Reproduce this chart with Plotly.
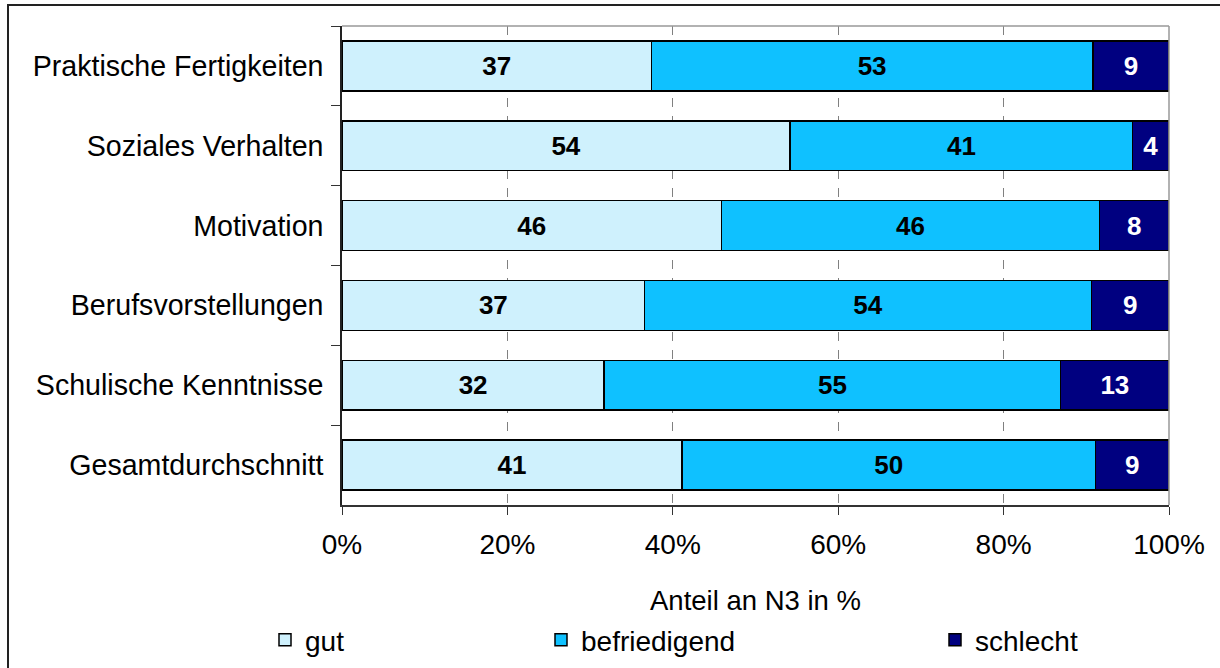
import plotly.graph_objects as go

categories = ["Praktische Fertigkeiten", "Soziales Verhalten", "Motivation",
              "Berufsvorstellungen", "Schulische Kenntnisse", "Gesamtdurchschnitt"]
gut = [37.4, 54.2, 45.9, 36.6, 31.7, 41.1]
befriedigend = [53.4, 41.4, 45.7, 54.0, 55.2, 50.0]
schlecht = [9.2, 4.4, 8.4, 9.4, 13.1, 8.9]
series_names = ["gut", "befriedigend", "schlecht"]
x_ticks = [0, 20, 40, 60, 80, 100]
x_tick_labels = ["0%", "20%", "40%", "60%", "80%", "100%"]

colors = ["#CFF1FD", "#0FC1FF", "#000080"]
text_colors = ["black", "black", "white"]
legend_ids = ["legend", "legend2", "legend3"]

FONT = "Liberation Sans, Arial, sans-serif"

fig = go.Figure()
for name, vals, col, tcol, lid in zip(series_names, [gut, befriedigend, schlecht],
                                      colors, text_colors, legend_ids):
    fig.add_trace(go.Bar(
        y=categories, x=vals, name=name, orientation="h",
        marker=dict(color=col, line=dict(color="black", width=1.5)),
        texttemplate="<b>%{x:.0f}</b>", textposition="inside",
        insidetextanchor="middle", textangle=0,
        textfont=dict(family=FONT, size=26, color=tcol),
        legend=lid,
    ))

W, H = 1220, 668
L, R, T, B = 342, 51, 26, 163
pw, ph = W - L - R, H - T - B

def px_x(p):
    return (p - L) / pw

def px_y(p):
    return (H - B - p) / ph

legend_common = dict(orientation="h", yanchor="middle", xanchor="left",
                     font=dict(family=FONT, size=28, color="black"),
                     bgcolor="rgba(0,0,0,0)", itemclick=False)

fig.update_layout(
    width=W, height=H,
    margin=dict(l=L, r=R, t=T, b=B, pad=0, autoexpand=False),
    paper_bgcolor="white", plot_bgcolor="white",
    barmode="stack", bargap=0.375,
    font=dict(family=FONT, size=27, color="black"),
    xaxis=dict(range=[0, 100], tickvals=x_ticks, ticktext=x_tick_labels,
               showgrid=True, gridcolor="#808080", griddash="dash", gridwidth=1,
               showline=True, linecolor="#333333", linewidth=1.5,
               ticks="outside", ticklen=8, tickcolor="#333333",
               tickfont=dict(family=FONT, size=28, color="black"),
               ticklabelstandoff=6, automargin=False,
               zeroline=False, fixedrange=True),
    yaxis=dict(autorange="reversed", tickson="boundaries",
               ticks="outside", ticklen=9, tickcolor="#333333",
               showline=True, linecolor="#222222", linewidth=1.5,
               tickfont=dict(family=FONT, size=28.6, color="black"),
               ticklabelstandoff=11, showgrid=False, automargin=False,
               fixedrange=True),
    legend=dict(x=px_x(265), y=px_y(640), **legend_common),
    legend2=dict(x=px_x(541), y=px_y(640), **legend_common),
    legend3=dict(x=px_x(935), y=px_y(640), **legend_common),
    annotations=[dict(text="Anteil an N3 in %", xref="paper", yref="paper",
                      x=0.5, y=px_y(600), xanchor="center", yanchor="middle",
                      showarrow=False, font=dict(family=FONT, size=27.5, color="black"))],
    shapes=[
        dict(type="line", xref="paper", yref="paper", x0=0, x1=1, y0=1, y1=1,
             line=dict(color="#999999", width=1.5)),
        dict(type="line", xref="paper", yref="paper", x0=1, x1=1, y0=0, y1=1,
             line=dict(color="#999999", width=1.5)),
        dict(type="rect", xref="paper", yref="paper",
             x0=px_x(8), x1=px_x(1230), y0=px_y(680), y1=px_y(5),
             line=dict(color="#222222", width=2), fillcolor="rgba(0,0,0,0)",
             layer="below"),
    ],
    showlegend=True,
)

fig.write_html("out.html", config={"displayModeBar": False},
               post_script="document.body.style.margin='0';document.body.style.overflow='hidden';")
